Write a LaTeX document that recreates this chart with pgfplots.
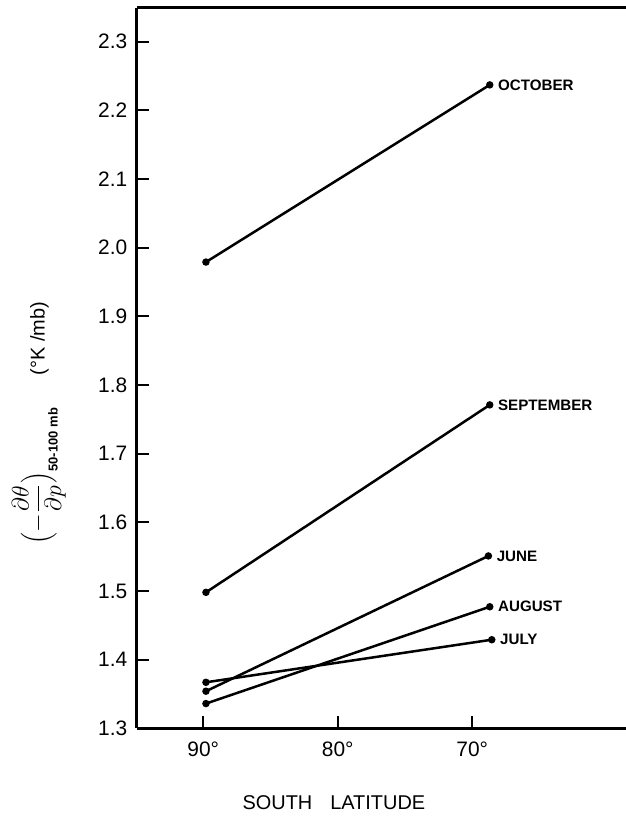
\documentclass[border=0pt]{standalone}
\usepackage{fontspec}
\setmainfont{Liberation Sans}
\usepackage{pgfplots}
\pgfplotsset{compat=1.18}
\pgfplotsset{mline/.style={black, solid, line width=1.25bp, mark=*, mark size=1.2bp, mark options={solid, fill=black}}}
\begin{document}
\begin{tikzpicture}
\begin{axis}[
  scale only axis, width=244.65bp, height=360.15bp,
  at={(0,0)}, anchor=south west,
  x dir=reverse, xmin=58.57, xmax=94.95, ymin=1.3, ymax=2.349,
  axis x line=bottom, axis y line=left,
  axis line style={-, line width=1.5bp, black},
  xtick={90,80,70}, xticklabels={90°,80°,70°},
  ytick={1.3,1.4,1.5,1.6,1.7,1.8,1.9,2.0,2.1,2.2,2.3},
  /pgf/number format/fixed, /pgf/number format/fixed zerofill,
  /pgf/number format/precision=1, /pgf/number format/assume math mode=true,
  tick align=inside, major tick length=6bp,
  every tick/.style={black, line width=1bp},
  tick label style={font=\fontsize{10.5}{12}\selectfont},
  yticklabel style={inner sep=0pt, xshift=-4.5bp},
  xticklabel style={inner sep=0pt, yshift=-6.5bp},
  ylabel={{\fontsize{11.5}{13}\selectfont$\displaystyle\Bigl(-\frac{\partial\theta}{\partial p}\Bigr)_{\mbox{\bfseries\fontsize{6.5}{7}\selectfont 50-100 mb}}$}\hspace{16bp}{\fontsize{10}{12}\selectfont(°K /mb)}},
  ylabel style={at={(axis description cs:-0.2,0.424)}, anchor=center},
  xlabel={\fontsize{10}{12}\selectfont SOUTH\hspace{9bp}LATITUDE},
  xlabel style={at={(axis description cs:0.403,-0.103)}, anchor=center},
  clip=false,
]
\addplot[mline] coordinates {(89.8,1.979) (68.7,2.237)};
\addplot[mline] coordinates {(89.8,1.498) (68.7,1.771)};
\addplot[mline] coordinates {(89.8,1.354) (68.8,1.551)};
\addplot[mline] coordinates {(89.8,1.336) (68.7,1.477)};
\addplot[mline] coordinates {(89.8,1.367) (68.55,1.429)};
\begin{scope}[every node/.style={anchor=west, inner sep=0pt, xshift=4bp, font=\fontsize{7.6}{9}\selectfont\bfseries}]
\node at (axis cs:68.7,2.237) {OCTOBER};
\node at (axis cs:68.7,1.771) {SEPTEMBER};
\node at (axis cs:68.8,1.551) {JUNE};
\node at (axis cs:68.7,1.477) {AUGUST};
\node at (axis cs:68.55,1.429) {JULY};
\end{scope}
\draw[line width=1.5bp] (rel axis cs:0,1) -- (rel axis cs:1,1);
\end{axis}
\pgfresetboundingbox
\path[use as bounding box] (-68.35bp,-44.35bp) rectangle (244.65bp,364.15bp);
\end{tikzpicture}
\end{document}
